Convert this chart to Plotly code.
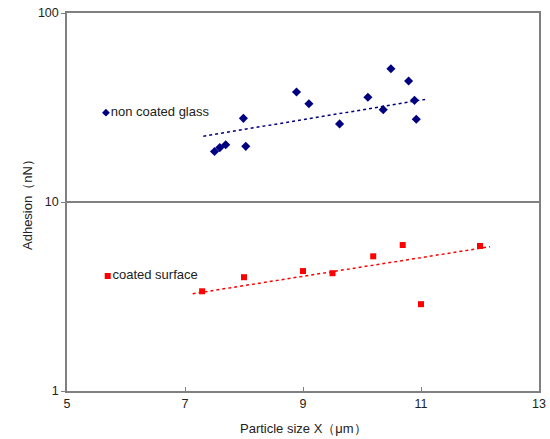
import plotly.graph_objects as go

# Non coated glass
glass_x = [7.50, 7.59, 7.69, 7.99, 8.03, 8.89, 9.10, 9.62, 10.10, 10.36, 10.49, 10.79, 10.89, 10.92]
glass_y = [18.5, 19.4, 20.1, 27.7, 19.7, 38.2, 33.1, 25.9, 35.8, 30.8, 50.7, 43.7, 34.5, 27.4]
glass_trend_x = [7.31, 11.07]
glass_trend_y = [22.3, 34.9]

# Coated surface
coated_x = [7.29, 8.00, 9.00, 9.50, 10.19, 10.69, 11.00, 12.00]
coated_y = [3.37, 4.00, 4.31, 4.20, 5.16, 5.92, 2.88, 5.85]
coated_trend_x = [7.13, 12.17]
coated_trend_y = [3.27, 5.80]

# Label positions (in-chart legend)
label_names = ["non coated glass", "coated surface"]
label_x = [5.66, 5.69]
label_y = [29.7, 4.06]

x_ticks = [5, 7, 9, 11, 13]
y_ticks = [1, 10, 100]

blue = "#000080"
red = "#ff0000"
font = "Liberation Sans, Arial, sans-serif"

fig = go.Figure()
fig.add_trace(go.Scatter(x=glass_trend_x, y=glass_trend_y, mode="lines",
                         line=dict(color=blue, width=1.5, dash="3px,3px"), showlegend=False))
fig.add_trace(go.Scatter(x=coated_trend_x, y=coated_trend_y, mode="lines",
                         line=dict(color=red, width=1.5, dash="3px,3px"), showlegend=False))
fig.add_trace(go.Scatter(x=glass_x, y=glass_y, mode="markers",
                         marker=dict(symbol="diamond", size=7, color=blue), showlegend=False))
fig.add_trace(go.Scatter(x=coated_x, y=coated_y, mode="markers",
                         marker=dict(symbol="square", size=6, color=red), showlegend=False))
fig.add_trace(go.Scatter(x=[label_x[0]], y=[label_y[0]], mode="markers+text",
                         text=[label_names[0]], textposition="middle right",
                         textfont=dict(size=13, color="#222222", family=font),
                         marker=dict(symbol="diamond", size=6, color=blue), showlegend=False))
fig.add_trace(go.Scatter(x=[label_x[1]], y=[label_y[1]], mode="markers+text",
                         text=[label_names[1]], textposition="middle right",
                         textfont=dict(size=13, color="#222222", family=font),
                         marker=dict(symbol="square", size=6, color=red), showlegend=False))

fig.update_layout(
    width=550, height=439,
    margin=dict(l=67, r=11, t=13, b=48, autoexpand=False),
    paper_bgcolor="white", plot_bgcolor="white",
    font=dict(family=font, size=12.5, color="#222222"),
    annotations=[
        dict(text="Particle size X（μm）", xref="paper", yref="paper", x=0.5, y=0,
             yshift=-37, showarrow=False, xanchor="center", yanchor="middle",
             font=dict(size=13)),
        dict(text="Adhesion（nN）", xref="paper", yref="paper", x=0, y=0.5,
             xshift=-40, showarrow=False, textangle=-90, xanchor="center", yanchor="middle",
             font=dict(size=13)),
    ],
)
fig.update_xaxes(
    range=[5, 13], tickvals=x_ticks, ticktext=[str(v) for v in x_ticks],
    showgrid=False, zeroline=False, automargin=False,
    showline=True, linecolor="#808080", linewidth=1.5, mirror=True,
    ticks="inside", ticklen=4, tickcolor="#808080",
)
fig.update_yaxes(
    type="log", range=[0, 2], tickvals=y_ticks, ticktext=[str(v) for v in y_ticks],
    showgrid=True, gridcolor="#808080", gridwidth=1.5, zeroline=False, automargin=False,
    showline=True, linecolor="#808080", linewidth=1.5, mirror=True,
    ticks="outside", ticklen=4, tickcolor="#808080",
)

fig.write_html("out.html", config={"displayModeBar": False},
               post_script="document.body.style.margin='0';document.body.style.overflow='hidden';")
